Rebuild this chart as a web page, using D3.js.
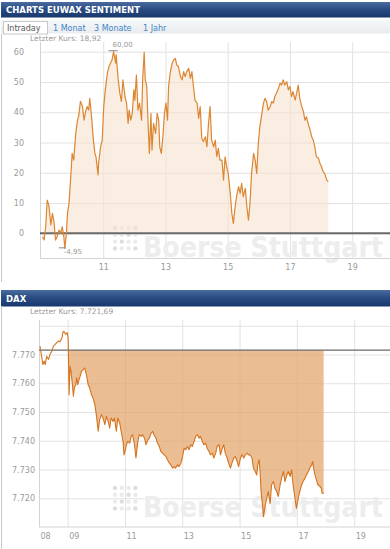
<!DOCTYPE html>
<html>
<head>
<meta charset="utf-8">
<script src="https://cdn.jsdelivr.net/npm/d3@7"></script>
<style>
  body { margin: 0; background: #fff; }
  svg { display: block; font-family: "DejaVu Sans", Verdana, sans-serif; }
</style>
</head>
<body>
<div id="chart"></div>
<script>
// EUWAX Sentiment intraday
const euwaxTimes = ["09:03","09:06","09:09","09:12","09:15","09:19","09:22","09:25","09:28","09:31","09:35","09:38","09:41","09:44","09:46","09:49","09:51","09:54","09:57",
  "10:00","10:03","10:07","10:10","10:13","10:16","10:20","10:23","10:26","10:29","10:32","10:34","10:37","10:41","10:44","10:46","10:50","10:51","10:55","10:58",
  "11:01","11:04","11:08","11:11","11:14","11:17","11:20","11:24","11:25","11:29","11:32","11:35","11:38","11:42","11:45","11:48","11:50","11:53","11:56","11:59",
  "12:01","12:04","12:07","12:10","12:14","12:16","12:19","12:21","12:24","12:26","12:29","12:32","12:34","12:37","12:41","12:44","12:47","12:49","12:52","12:55","12:58",
  "13:01","13:04","13:06","13:09","13:13","13:16","13:19","13:22","13:25","13:29","13:32","13:35","13:38","13:41","13:45","13:48","13:51","13:54","13:57",
  "14:01","14:04","14:07","14:10","14:13","14:17","14:20","14:23","14:26","14:29","14:33","14:36","14:39","14:42","14:45","14:49","14:52","14:55","14:58",
  "15:01","15:05","15:08","15:11","15:14","15:17","15:21","15:24","15:27","15:30","15:34","15:37","15:40","15:43","15:46","15:50","15:53","15:56","15:59",
  "16:02","16:06","16:09","16:12","16:15","16:18","16:22","16:25","16:28","16:31","16:34","16:38","16:41","16:44","16:47","16:50","16:54","16:57",
  "17:00","17:03","17:06","17:10","17:13","17:16","17:19","17:22","17:26","17:29","17:32","17:35","17:39","17:42","17:45","17:48","17:51","17:55","17:58",
  "18:01","18:04","18:07","18:11","18:14"];
const euwaxValues = [-1.1,-2.2,2.2,11.0,9.4,2.8,6.6,3.9,-2.2,-1.1,1.1,0.0,2.2,-1.1,-4.95,0.0,6.6,9.9,17.6,
  26.4,24.2,33.0,36.9,39.1,43.6,41.9,37.4,40.2,41.9,40.7,44.6,39.6,30.8,26.4,25.3,19.3,23.1,28.6,30.8,
  41.9,47.4,52.9,55.1,56.2,57.3,60.0,56.2,59.0,50.7,46.3,43.6,50.7,45.2,43.0,36.3,40.7,37.4,39.6,47.4,
  44.0,52.3,40.7,43.0,37.4,50.7,59.8,50.7,48.5,38.5,26.4,39.6,27.5,36.3,33.0,39.6,37.4,28.6,26.4,31.9,39.6,
  43.0,37.4,48.5,52.9,56.2,57.3,57.8,55.5,55.1,51.8,50.7,53.4,51.8,53.4,54.5,51.2,53.4,48.5,44.0,
  43.0,38.0,41.9,31.4,30.3,31.9,28.6,36.3,41.9,30.8,28.6,30.8,25.3,28.1,24.2,24.2,17.6,25.3,22.0,
  19.8,13.2,6.6,3.3,8.3,12.1,15.4,13.2,16.5,12.1,14.9,8.8,4.4,9.9,19.8,26.4,24.2,19.8,29.7,
  35.2,39.6,43.0,44.6,43.6,40.7,41.9,43.6,43.0,45.2,46.3,47.9,49.6,49.0,50.7,49.0,50.1,47.4,
  48.5,45.2,46.8,44.0,46.3,49.0,44.6,42.4,40.2,37.4,38.5,36.3,34.1,31.9,30.8,28.6,25.3,24.8,23.1,
  22.0,20.4,19.8,17.6,17.1];
const euwaxLast = 18.92;
const euwaxYTicks = [0, 10, 20, 30, 40, 50, 60];
const euwaxXTicks = ["11:00", "13:00", "15:00", "17:00", "19:00"];
const tabLabels = ["Intraday", "1 Monat", "3 Monate", "1 Jahr"];

// DAX intraday
const daxTimes = ["08:02","08:06","08:08","08:11","08:13","08:16","08:20","08:23","08:27","08:30","08:34","08:37","08:41","08:44","08:48","08:50","08:52","08:56","08:59",
  "09:01","09:03","09:05","09:07","09:10","09:12","09:14","09:17","09:19","09:21","09:24","09:26","09:29","09:33","09:36","09:40","09:43","09:46","09:50","09:53","09:57",
  "10:00","10:04","10:07","10:11","10:14","10:18","10:21","10:25","10:28","10:31","10:35","10:38","10:42","10:45","10:49","10:52","10:56","10:58",
  "11:01","11:03","11:06","11:10","11:13","11:16","11:20","11:23","11:27","11:30","11:34","11:37","11:41","11:44","11:48","11:51","11:55","11:58",
  "12:01","12:05","12:08","12:12","12:15","12:19","12:22","12:26","12:29","12:33","12:36","12:40","12:43","12:46","12:50","12:53","12:57",
  "13:00","13:04","13:07","13:11","13:14","13:18","13:21","13:25","13:28","13:32","13:35","13:38","13:42","13:45","13:49","13:52","13:56","13:59",
  "14:03","14:06","14:10","14:13","14:17","14:20","14:24","14:27","14:30","14:34","14:37","14:41","14:44","14:48","14:51","14:55","14:58",
  "15:02","15:05","15:09","15:12","15:16","15:19","15:22","15:26","15:29","15:33","15:36","15:38","15:41","15:43","15:45","15:48","15:50","15:54","15:57",
  "16:00","16:04","16:07","16:11","16:14","16:18","16:21","16:25","16:28","16:32","16:35","16:39","16:42","16:46","16:49","16:52","16:56","16:59",
  "17:03","17:06","17:10","17:13","17:17","17:20","17:24","17:27","17:31","17:33","17:35","17:38","17:41","17:44","17:48","17:51","17:53","17:56"];
const daxValues = [7772.9,7768.8,7766.5,7767.7,7766.5,7769.4,7768.3,7770.0,7771.2,7772.9,7773.5,7774.1,7774.7,7774.4,7775.8,7777.6,7778.1,7777.0,7777.6,
  7775.8,7756.0,7765.9,7764.2,7759.5,7755.5,7758.4,7759.5,7761.9,7759.5,7761.3,7762.4,7764.2,7764.8,7765.3,7762.4,7759.5,7758.4,7756.0,7754.9,7752.6,
  7749.1,7743.3,7747.4,7749.1,7747.9,7745.6,7748.5,7746.7,7744.4,7747.9,7746.7,7747.9,7743.3,7747.9,7746.2,7743.3,7739.8,7735.1,
  7736.9,7738.6,7739.8,7739.2,7741.5,7742.1,7738.6,7734.0,7739.8,7742.1,7741.5,7742.1,7740.9,7738.6,7740.3,7740.9,7742.7,7743.3,
  7742.1,7740.9,7739.2,7738.0,7736.3,7735.7,7735.1,7734.5,7733.4,7732.2,7731.6,7730.5,7731.0,7730.5,7731.6,7731.0,7732.2,
  7734.0,7737.4,7736.9,7738.0,7736.9,7738.6,7738.0,7739.8,7741.5,7742.1,7740.9,7741.5,7739.8,7738.6,7739.2,7737.4,7736.3,7735.1,
  7735.7,7734.0,7735.7,7738.0,7738.6,7735.1,7737.4,7738.6,7735.7,7734.0,7732.2,7730.5,7732.2,7734.0,7734.5,7732.8,7731.0,
  7734.0,7735.1,7734.0,7735.1,7735.7,7735.1,7735.1,7734.0,7730.5,7729.3,7728.1,7731.6,7733.4,7729.3,7722.3,7717.7,7713.6,7717.7,7720.0,
  7722.3,7718.2,7724.7,7725.8,7723.5,7722.3,7720.6,7724.7,7727.0,7729.3,7725.8,7728.1,7729.3,7727.6,7729.9,7724.7,7720.0,7716.5,
  7720.0,7722.3,7724.7,7725.8,7727.0,7728.1,7729.3,7730.5,7731.6,7732.8,7730.5,7728.1,7726.4,7724.7,7724.1,7723.5,7721.7,7721.69];
const daxPrevClose = 7771.5;
const daxLast = 7721.69;
const daxYTicks = [7720, 7730, 7740, 7750, 7760, 7770, 7780];
const daxXTicks = ["08:00", "09:00", "11:00", "13:00", "15:00", "17:00", "19:00"];

document.addEventListener("DOMContentLoaded", () => {
    const W = 390, H = 549;
    const parseTime = d3.timeParse("%H:%M");
    const de = d3.formatLocale({ decimal: ",", thousands: ".", grouping: [3], currency: ["", " €"], minus: "-" });
    const fmt2 = de.format(",.2f");
    const fmt0 = de.format(",.0f");

    const svg = d3.select("#chart").append("svg")
        .attr("width", W).attr("height", H);

    const defs = svg.append("defs");
    const grad = defs.append("linearGradient").attr("id", "hdr")
        .attr("x1", 0).attr("y1", 0).attr("x2", 0).attr("y2", 1);
    grad.append("stop").attr("offset", "0%").attr("stop-color", "#4a6c9f");
    grad.append("stop").attr("offset", "45%").attr("stop-color", "#2a4d84");
    grad.append("stop").attr("offset", "100%").attr("stop-color", "#17386d");
    const tabGrad = defs.append("linearGradient").attr("id", "tabrow")
        .attr("x1", 0).attr("y1", 0).attr("x2", 0).attr("y2", 1);
    tabGrad.append("stop").attr("offset", "0%").attr("stop-color", "#f7f8f9");
    tabGrad.append("stop").attr("offset", "100%").attr("stop-color", "#e9ebee");

    function header(y, h, label) {
        svg.append("rect").attr("x", 1).attr("y", y).attr("width", W - 1).attr("height", h)
            .attr("fill", "url(#hdr)");
        svg.append("text").attr("x", 6).attr("y", y + h / 2 + 3.5)
            .attr("fill", "#fff").attr("font-weight", "bold").attr("font-size", "8.5px")
            .text(label);
    }

    // faint logo behind the plot
    function watermark(g, yBase) {
        const dots = d3.cross(d3.range(4), d3.range(4));
        g.selectAll("circle.dot").data(dots).join("circle")
            .attr("class", "dot")
            .attr("cx", d => 115 + d[0] * 6.8)
            .attr("cy", d => yBase - 29 + d[1] * 6.8)
            .attr("r", 2.2)
            .attr("fill", d => (d[0] + d[1]) % 3 === 0 ? "#dedede" : "#ebebeb");
        g.append("text")
            .attr("transform", `translate(143,${yBase}) scale(1,1.3)`)
            .attr("font-size", "22px").attr("font-weight", "bold")
            .attr("fill", "#ededed")
            .attr("textLength", 240).attr("lengthAdjust", "spacingAndGlyphs")
            .text("Boerse Stuttgart");
    }

    // ---------- top panel: EUWAX Sentiment ----------
    header(2, 15.5, "CHARTS EUWAX SENTIMENT");

    svg.append("rect").attr("x", 1).attr("y", 19.5).attr("width", W - 1).attr("height", 14)
        .attr("fill", "url(#tabrow)");
    svg.append("rect").attr("x", 3.5).attr("y", 21.5).attr("width", 44).attr("height", 12.5)
        .attr("fill", "#fff").attr("stroke", "#c8c8c8");
    const tabX = [7, 53, 94, 143];
    svg.selectAll("text.tab").data(tabLabels).join("text")
        .attr("class", "tab")
        .attr("x", (d, i) => tabX[i]).attr("y", 30.5)
        .attr("font-size", "8px")
        .attr("fill", (d, i) => i === 0 ? "#555" : "#3f86c8")
        .text(d => d);

    svg.append("line").attr("x1", 1.5).attr("x2", 1.5).attr("y1", 34).attr("y2", 282)
        .attr("stroke", "#c8c8c8");

    svg.append("text").attr("x", 30).attr("y", 41)
        .attr("font-size", "7.5px").attr("fill", "#999")
        .text("Letzter Kurs: " + fmt2(euwaxLast));

    const top = svg.append("g");

    const x1 = d3.scaleTime()
        .domain([parseTime("09:00"), parseTime("20:13")])
        .range([41, W]);
    const y1 = d3.scaleLinear()
        .domain([-8.3, 63.2])
        .range([258.5, 42]);

    const euwax = euwaxTimes.map((t, i) => ({ t: parseTime(t), v: euwaxValues[i] }));

    top.append("g")
        .attr("transform", `translate(40,0)`)
        .call(d3.axisLeft(y1).tickValues(euwaxYTicks).tickSize(-(W - 40)).tickPadding(16).tickFormat(d => d))
        .call(g => g.select(".domain").remove())
        .call(g => g.selectAll(".tick line").attr("stroke", "#e2e2e2"))
        .call(g => g.selectAll(".tick text").attr("fill", "#9a9a9a").attr("font-size", "8px")
            .attr("font-family", "DejaVu Sans, sans-serif"));

    top.append("g")
        .attr("transform", `translate(0,258.5)`)
        .call(d3.axisBottom(x1).tickValues(euwaxXTicks.map(parseTime)).tickSize(-(258.5 - 42)).tickPadding(6)
            .tickFormat(d3.timeFormat("%H")))
        .call(g => g.select(".domain").remove())
        .call(g => g.selectAll(".tick line").attr("stroke", "#e2e2e2"))
        .call(g => g.selectAll(".tick text").attr("fill", "#9a9a9a").attr("font-size", "8px")
            .attr("font-family", "DejaVu Sans, sans-serif"));

    watermark(top, 257);

    top.append("line").attr("x1", 40).attr("x2", W).attr("y1", 258.5).attr("y2", 258.5).attr("stroke", "#d4d4d4");
    top.append("line").attr("x1", 40.5).attr("x2", 40.5).attr("y1", 42).attr("y2", 258.5).attr("stroke", "#d4d4d4");

    top.append("path").datum(euwax)
        .attr("fill", "#f6e1cf").attr("fill-opacity", 0.6)
        .attr("d", d3.area().x(d => x1(d.t)).y0(y1(0)).y1(d => y1(d.v)));

    top.append("line").attr("x1", 40).attr("x2", W).attr("y1", y1(0)).attr("y2", y1(0))
        .attr("stroke", "#6a6a6a").attr("stroke-width", 2);

    top.append("path").datum(euwax)
        .attr("fill", "none").attr("stroke", "#dc8632").attr("stroke-width", 1.2)
        .attr("stroke-linejoin", "round")
        .attr("d", d3.line().x(d => x1(d.t)).y(d => y1(d.v)));

    // max / min markers
    const hi = euwax[d3.maxIndex(euwax, d => d.v)];
    const lo = euwax[d3.minIndex(euwax, d => d.v)];
    top.append("line").attr("x1", x1(hi.t) - 5).attr("x2", x1(hi.t) + 4)
        .attr("y1", y1(hi.v) - 1).attr("y2", y1(hi.v) - 1).attr("stroke", "#888");
    top.append("text").attr("x", x1(hi.t) - 1).attr("y", y1(hi.v) - 5)
        .attr("font-size", "7px").attr("fill", "#999").text(fmt2(hi.v));
    top.append("line").attr("x1", x1(lo.t) - 6).attr("x2", x1(lo.t) + 1)
        .attr("y1", y1(lo.v) - 0.5).attr("y2", y1(lo.v) - 0.5).attr("stroke", "#888");
    top.append("text").attr("x", x1(lo.t) - 1).attr("y", y1(lo.v) + 6)
        .attr("font-size", "7px").attr("fill", "#999").text(fmt2(lo.v));

    // ---------- bottom panel: DAX ----------
    header(290, 16.5, "DAX");

    svg.append("line").attr("x1", 1.5).attr("x2", 1.5).attr("y1", 306).attr("y2", H)
        .attr("stroke", "#c8c8c8");

    svg.append("text").attr("x", 30).attr("y", 314)
        .attr("font-size", "7.5px").attr("fill", "#999")
        .text("Letzter Kurs: " + fmt2(daxLast));

    const bot = svg.append("g");

    const x2 = d3.scaleTime()
        .domain([parseTime("08:00"), parseTime("20:15")])
        .range([39, W]);
    const y2 = d3.scaleLinear()
        .domain([7710, 7782])
        .range([527, 320]);

    const dax = daxTimes.map((t, i) => ({ t: parseTime(t), v: daxValues[i] }));

    bot.append("g")
        .attr("transform", `translate(39,0)`)
        .call(d3.axisLeft(y2).tickValues(daxYTicks).tickSize(-(W - 39)).tickPadding(4)
            .tickFormat(d => d > 7775 ? "" : fmt0(d)))
        .call(g => g.select(".domain").remove())
        .call(g => g.selectAll(".tick line").attr("stroke", "#e2e2e2"))
        .call(g => g.selectAll(".tick text").attr("fill", "#9a9a9a").attr("font-size", "8px")
            .attr("font-family", "DejaVu Sans, sans-serif"));

    bot.append("g")
        .attr("transform", `translate(0,527)`)
        .call(d3.axisBottom(x2).tickValues(daxXTicks.map(parseTime)).tickSize(-(527 - 320)).tickPadding(6)
            .tickFormat(d3.timeFormat("%H")))
        .call(g => g.select(".domain").remove())
        .call(g => g.selectAll(".tick line").attr("stroke", "#e2e2e2"))
        .call(g => g.selectAll(".tick text").attr("fill", "#9a9a9a").attr("font-size", "8px")
            .attr("text-anchor", "start").attr("x", 1)
            .attr("font-family", "DejaVu Sans, sans-serif"));

    watermark(bot, 517);

    bot.append("line").attr("x1", 39).attr("x2", W).attr("y1", 527).attr("y2", 527).attr("stroke", "#d4d4d4");
    bot.append("line").attr("x1", 39.5).attr("x2", 39.5).attr("y1", 320).attr("y2", 527).attr("stroke", "#d4d4d4");

    const open = parseTime("09:00");
    bot.append("path").datum(dax.filter(d => d.t >= open))
        .attr("fill", "#e3a36a").attr("fill-opacity", 0.72)
        .attr("d", d3.area().x(d => x2(d.t)).y0(y2(daxPrevClose)).y1(d => y2(d.v)));

    bot.append("line").attr("x1", 39).attr("x2", W).attr("y1", y2(daxPrevClose)).attr("y2", y2(daxPrevClose))
        .attr("stroke", "#6a6a6a").attr("stroke-width", 1.3);

    bot.append("path").datum(dax)
        .attr("fill", "none").attr("stroke", "#d5741f").attr("stroke-width", 1.1)
        .attr("stroke-linejoin", "round")
        .attr("d", d3.line().x(d => x2(d.t)).y(d => y2(d.v)));
});
</script>
</body>
</html>
